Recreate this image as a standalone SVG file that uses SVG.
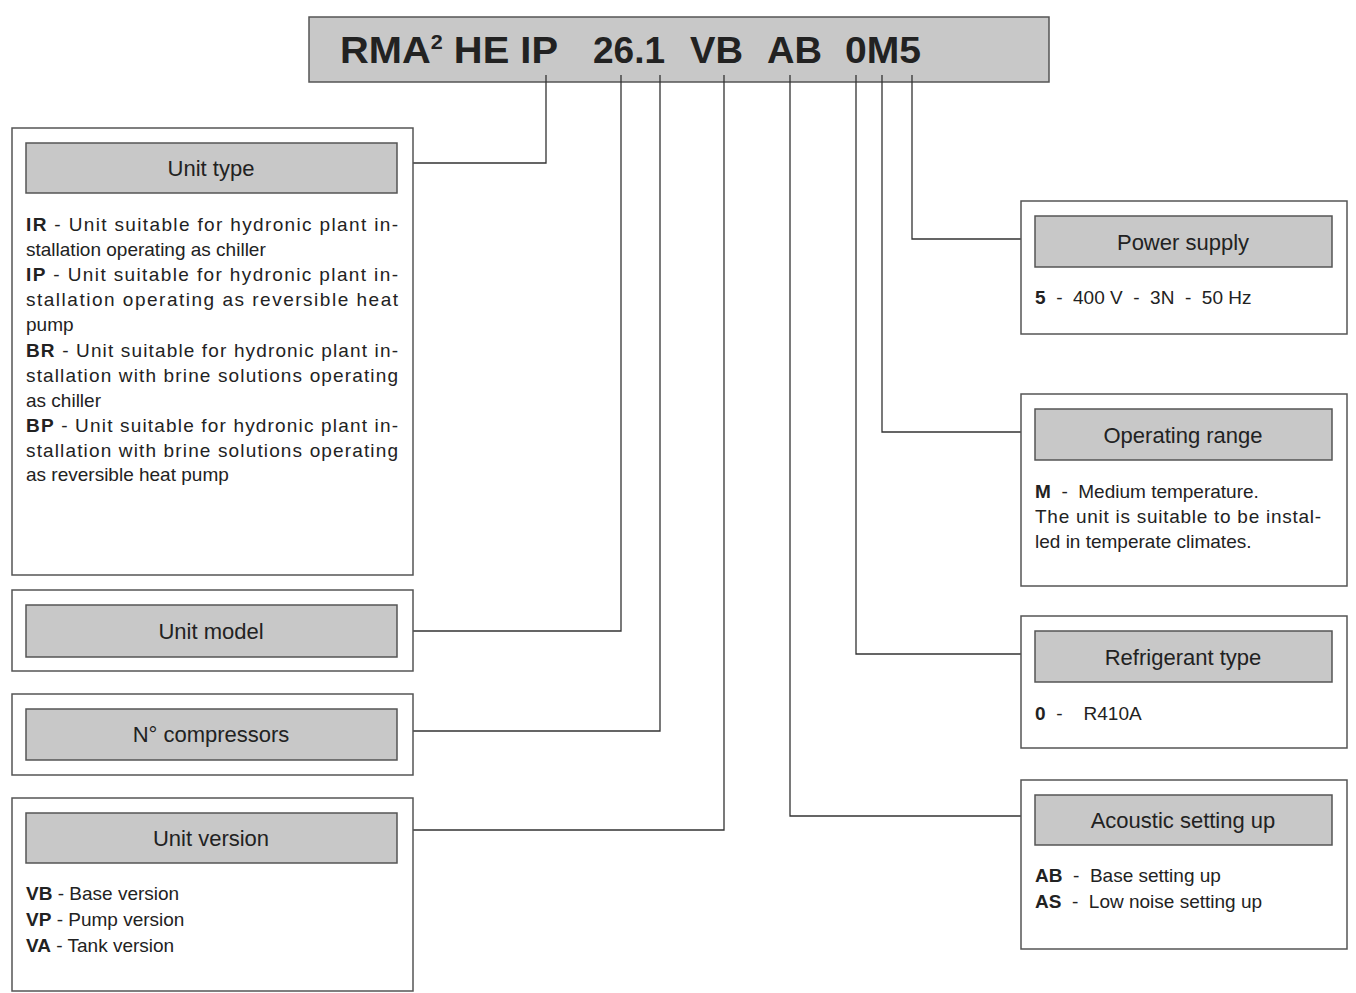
<svg xmlns="http://www.w3.org/2000/svg" width="1356" height="993" viewBox="0 0 1356 993">
<style>
.box{fill:#fff;stroke:#555;stroke-width:1.5}
.hd{fill:#c8c8c8;stroke:#555;stroke-width:1.5}
.ht{font-family:"Liberation Sans",Arial,sans-serif;font-size:22px;fill:#222;text-anchor:middle}
.t{font-family:"Liberation Sans",Arial,sans-serif;font-size:19px;fill:#222}
.b{font-weight:bold}
.code{font-family:"Liberation Sans",Arial,sans-serif;font-size:37px;font-weight:bold;fill:#222}
.c{fill:none;stroke:#333;stroke-width:1.3}
</style>
<rect width="1356" height="993" fill="#fff"/>
<g id="code">
<rect x="309" y="17" width="740" height="65" class="hd"/>
<text class="code" x="340" y="63" textLength="218" lengthAdjust="spacingAndGlyphs">RMA<tspan font-size="20" dy="-14">2</tspan><tspan dy="14"> HE IP</tspan></text>
<text class="code" x="593" y="63" textLength="72" lengthAdjust="spacingAndGlyphs">26.1</text>
<text class="code" x="690" y="63" textLength="53" lengthAdjust="spacingAndGlyphs">VB</text>
<text class="code" x="767" y="63" textLength="55" lengthAdjust="spacingAndGlyphs">AB</text>
<text class="code" x="845" y="63" textLength="76" lengthAdjust="spacingAndGlyphs">0M5</text>
</g>
<g id="connectors">
<polyline class="c" points="546,75 546,163 413,163"/>
<polyline class="c" points="621,75 621,631 413,631"/>
<polyline class="c" points="660,75 660,731 413,731"/>
<polyline class="c" points="724,75 724,830 413,830"/>
<polyline class="c" points="790,75 790,816 1021,816"/>
<polyline class="c" points="856,75 856,654 1021,654"/>
<polyline class="c" points="882,75 882,432 1021,432"/>
<polyline class="c" points="912,75 912,239 1021,239"/>
</g>
<g id="unit-type">
<rect x="12" y="128" width="401" height="447" class="box"/>
<rect x="26" y="143" width="371" height="50" class="hd"/>
<text class="ht" x="211" y="176">Unit type</text>
<text class="t" x="26" y="231" textLength="372" lengthAdjust="spacing"><tspan class="b">IR</tspan> - Unit suitable for hydronic plant in-</text>
<text class="t" x="26" y="256">stallation operating as chiller</text>
<text class="t" x="26" y="281" textLength="372" lengthAdjust="spacing"><tspan class="b">IP</tspan> - Unit suitable for hydronic plant in-</text>
<text class="t" x="26" y="306" textLength="372" lengthAdjust="spacing">stallation operating as reversible heat</text>
<text class="t" x="26" y="331">pump</text>
<text class="t" x="26" y="357" textLength="372" lengthAdjust="spacing"><tspan class="b">BR</tspan> - Unit suitable for hydronic plant in-</text>
<text class="t" x="26" y="382" textLength="372" lengthAdjust="spacing">stallation with brine solutions operating</text>
<text class="t" x="26" y="407">as chiller</text>
<text class="t" x="26" y="432" textLength="372" lengthAdjust="spacing"><tspan class="b">BP</tspan> - Unit suitable for hydronic plant in-</text>
<text class="t" x="26" y="457" textLength="372" lengthAdjust="spacing">stallation with brine solutions operating</text>
<text class="t" x="26" y="481">as reversible heat pump</text>
</g>
<g id="unit-model">
<rect x="12" y="590" width="401" height="81" class="box"/>
<rect x="26" y="605" width="371" height="52" class="hd"/>
<text class="ht" x="211" y="639">Unit model</text>
</g>
<g id="compressors">
<rect x="12" y="694" width="401" height="81" class="box"/>
<rect x="26" y="709" width="371" height="51" class="hd"/>
<text class="ht" x="211" y="742">N° compressors</text>
</g>
<g id="unit-version">
<rect x="12" y="798" width="401" height="193" class="box"/>
<rect x="26" y="813" width="371" height="50" class="hd"/>
<text class="ht" x="211" y="846">Unit version</text>
<text class="t" x="26" y="900"><tspan class="b">VB</tspan>  -  Base version</text>
<text class="t" x="26" y="926"><tspan class="b">VP</tspan>  -  Pump version</text>
<text class="t" x="26" y="952"><tspan class="b">VA</tspan>  -  Tank version</text>
</g>
<g id="power-supply">
<rect x="1021" y="201" width="326" height="133" class="box"/>
<rect x="1035" y="216" width="297" height="51" class="hd"/>
<text class="ht" x="1183" y="250">Power supply</text>
<text class="t" x="1035" y="304" xml:space="preserve"><tspan class="b">5</tspan>  -  400 V  -  3N  -  50 Hz</text>
</g>
<g id="operating-range">
<rect x="1021" y="394" width="326" height="192" class="box"/>
<rect x="1035" y="409" width="297" height="51" class="hd"/>
<text class="ht" x="1183" y="443">Operating range</text>
<text class="t" x="1035" y="498" xml:space="preserve"><tspan class="b">M</tspan>  -  Medium temperature.</text>
<text class="t" x="1035" y="523" textLength="286" lengthAdjust="spacing">The unit is suitable to be instal-</text>
<text class="t" x="1035" y="548">led in temperate climates.</text>
</g>
<g id="refrigerant-type">
<rect x="1021" y="616" width="326" height="132" class="box"/>
<rect x="1035" y="631" width="297" height="51" class="hd"/>
<text class="ht" x="1183" y="665">Refrigerant type</text>
<text class="t" x="1035" y="720" xml:space="preserve"><tspan class="b">0</tspan>  -    R410A</text>
</g>
<g id="acoustic">
<rect x="1021" y="780" width="326" height="169" class="box"/>
<rect x="1035" y="795" width="297" height="50" class="hd"/>
<text class="ht" x="1183" y="828">Acoustic setting up</text>
<text class="t" x="1035" y="882" xml:space="preserve"><tspan class="b">AB</tspan>  -  Base setting up</text>
<text class="t" x="1035" y="908" xml:space="preserve"><tspan class="b">AS</tspan>  -  Low noise setting up</text>
</g>
</svg>
